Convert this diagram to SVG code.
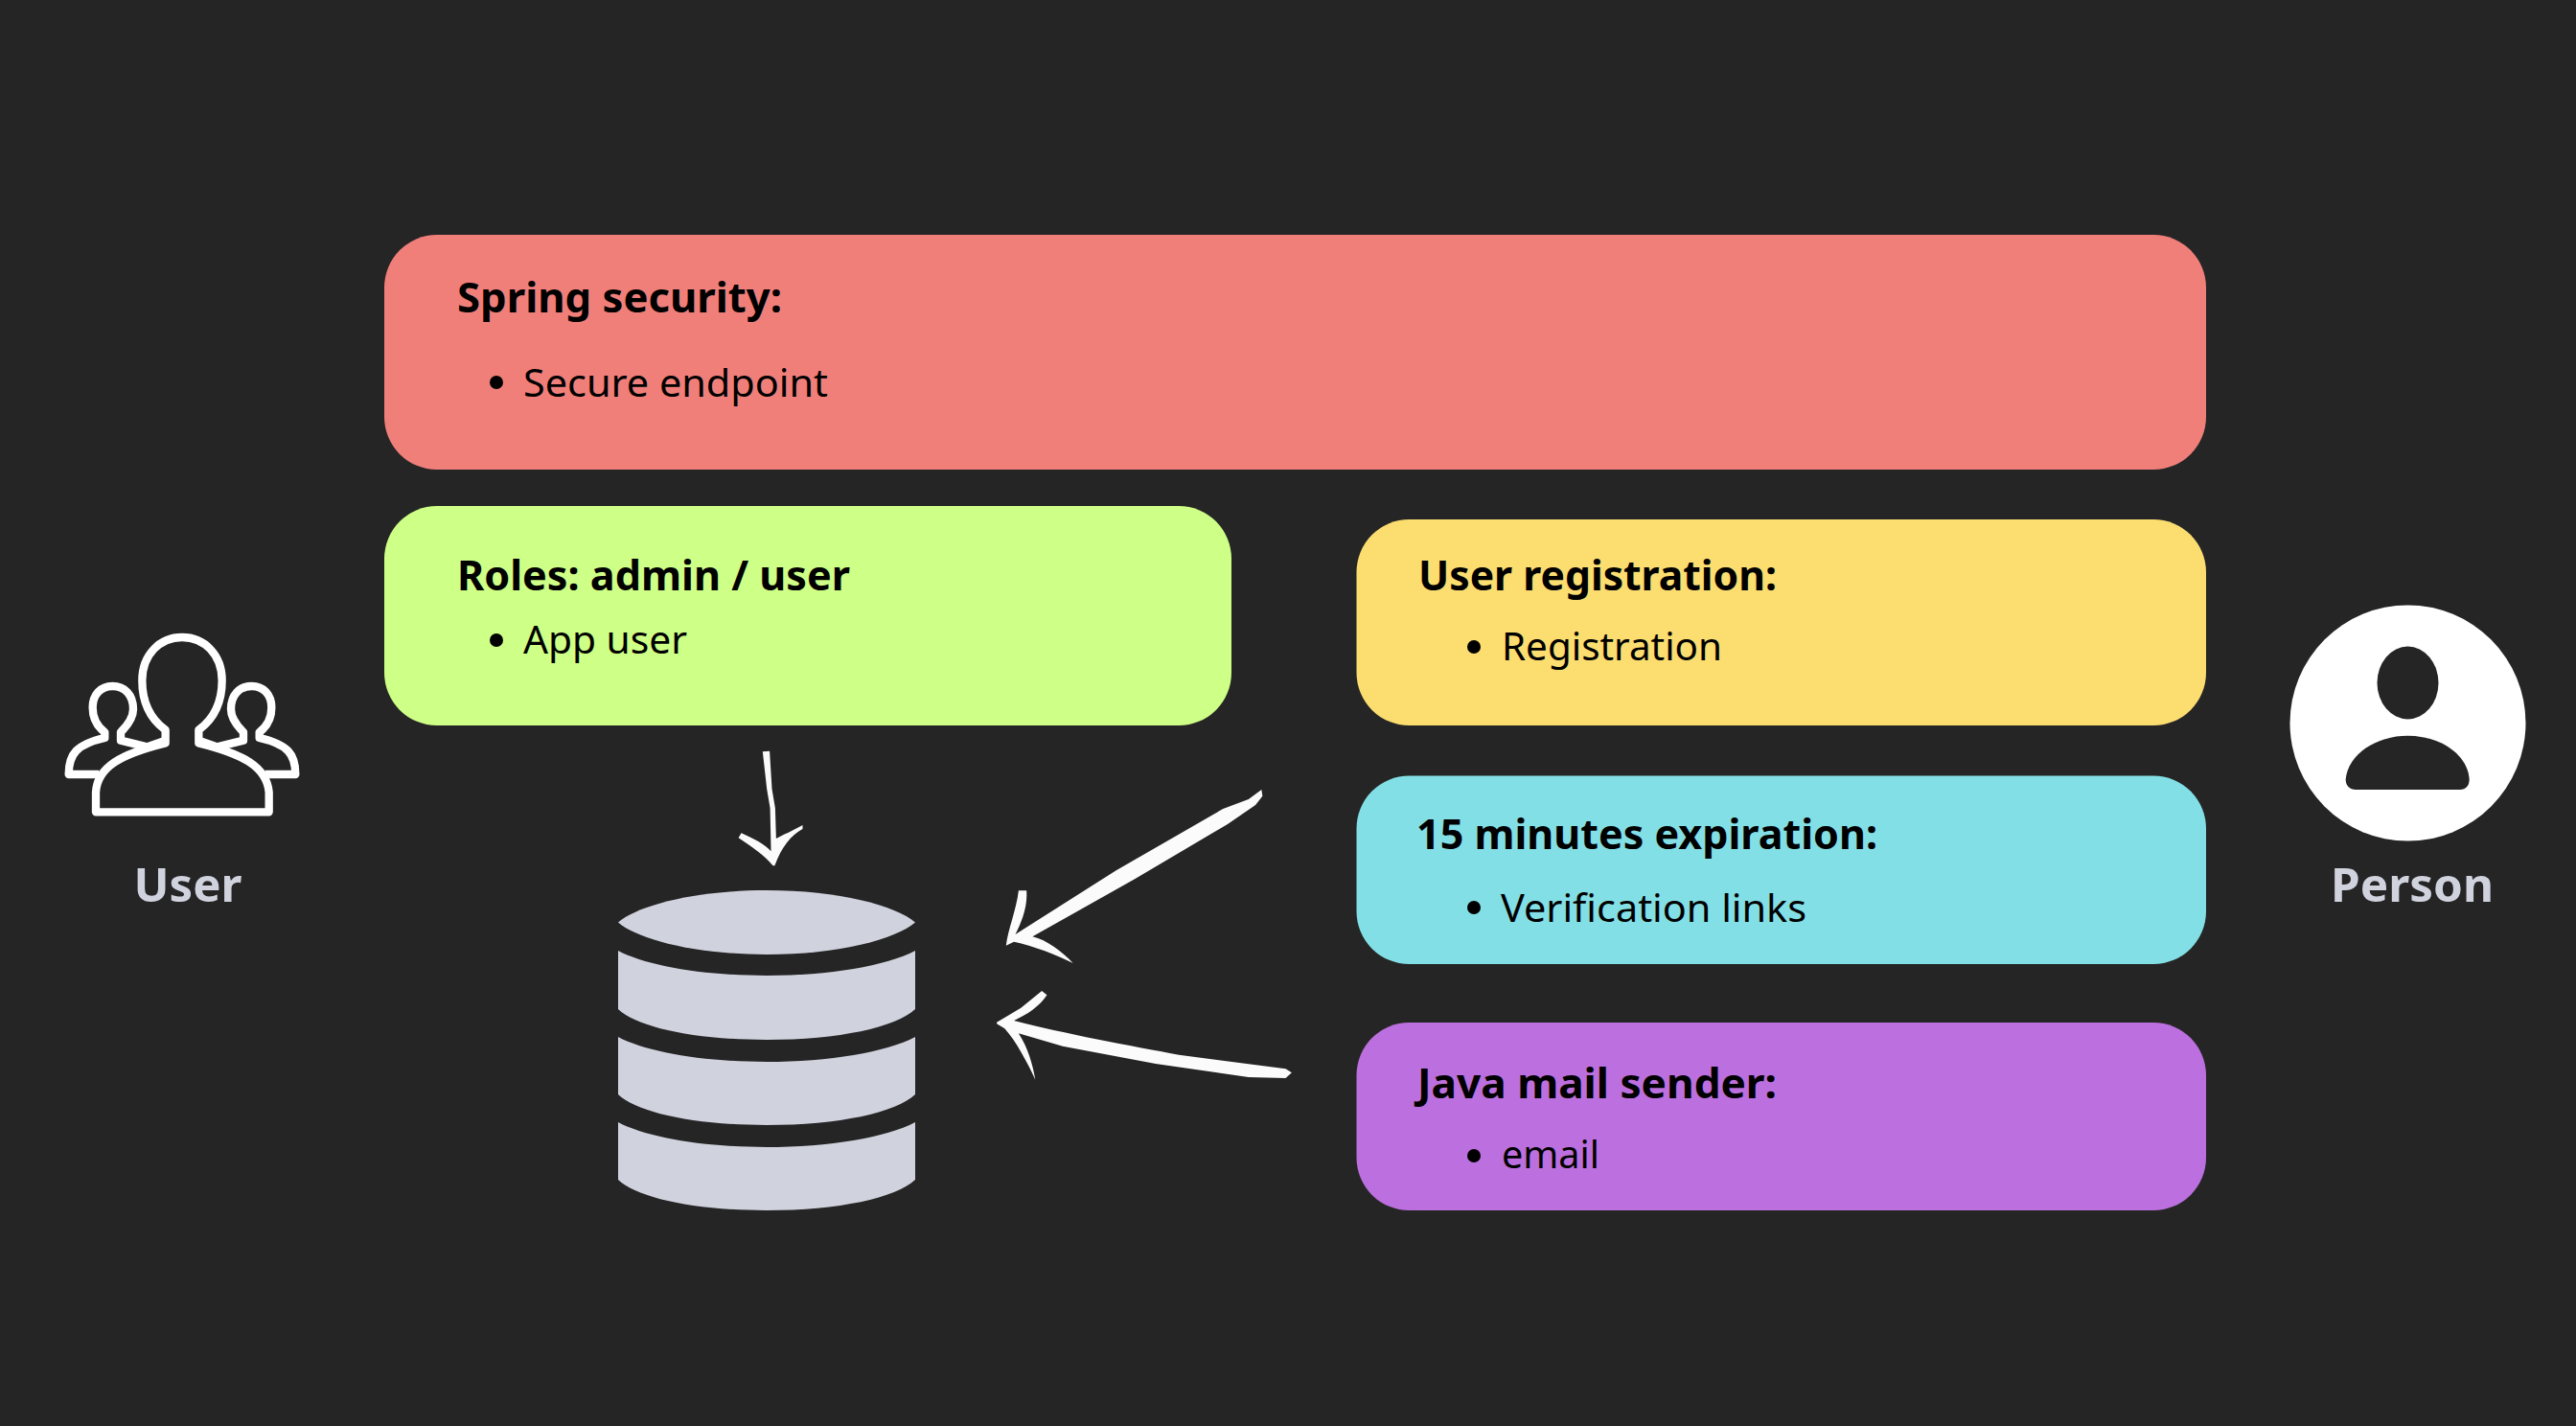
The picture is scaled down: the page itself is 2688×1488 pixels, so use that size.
<svg xmlns="http://www.w3.org/2000/svg" width="2688" height="1488" viewBox="0 0 2688 1488">
<style>
.h{font:700 43px "Noto Sans","Open Sans",sans-serif;fill:#000}
.b{font:400 40px "Noto Sans","Open Sans",sans-serif;fill:#000}
.l{font:700 48px "Noto Sans","Open Sans",sans-serif;fill:#d0d3de}
.db{fill:#d0d3de}
.arrow{fill:#fbfbfb}
.line{fill:none;stroke:#fff;stroke-width:8;stroke-linejoin:round}
</style>
<rect width="2688" height="1488" fill="#252525"/>
<g id="spring-security"><rect x="401" y="245" width="1901" height="245" rx="55" fill="#f07f7a"/>
<text class="h" x="477" y="326" textLength="339" lengthAdjust="spacingAndGlyphs">Spring security:</text><circle cx="518" cy="399" r="7"/><text class="b" x="546" y="414" textLength="318" lengthAdjust="spacingAndGlyphs">Secure endpoint</text></g>
<g id="roles"><rect x="401" y="528" width="884" height="229" rx="55" fill="#ceff86"/>
<text class="h" x="477" y="616" textLength="410" lengthAdjust="spacingAndGlyphs">Roles: admin / user</text><circle cx="518" cy="668" r="7"/><text class="b" x="546" y="682" textLength="171" lengthAdjust="spacingAndGlyphs">App user</text></g>
<g id="user-registration"><rect x="1415.500" y="542" width="886.500" height="215" rx="55" fill="#fbdd70"/>
<text class="h" x="1480" y="616" textLength="374" lengthAdjust="spacingAndGlyphs">User registration:</text><circle cx="1538" cy="675" r="7"/><text class="b" x="1567" y="689" textLength="230" lengthAdjust="spacingAndGlyphs">Registration</text></g>
<g id="expiration"><rect x="1415.500" y="809.500" width="886.500" height="196.500" rx="55" fill="#83dfe6"/>
<text class="h" x="1478" y="886" textLength="481" lengthAdjust="spacingAndGlyphs">15 minutes expiration:</text><circle cx="1538" cy="947" r="7"/><text class="b" x="1566" y="962" textLength="319" lengthAdjust="spacingAndGlyphs">Verification links</text></g>
<g id="mail-sender"><rect x="1415.500" y="1067" width="886.500" height="196" rx="55" fill="#bc6fde"/>
<text class="h" x="1479" y="1146" textLength="375" lengthAdjust="spacingAndGlyphs">Java mail sender:</text><circle cx="1538" cy="1206" r="7"/><text class="b" x="1567" y="1219" textLength="102" lengthAdjust="spacingAndGlyphs">email</text></g>
<g id="user">
<g transform="translate(40 620) scale(.33333)" class="line" style="stroke-width:25">
<path d="M180 682V620C185 540 260 500 398 466V425C350 390 325 340 325 270C325 190 380 135 450 135C520 135 575 190 575 270C575 340 550 390 502 425V466C640 500 715 540 722 620V682Z"/>
<path d="M190 564H95C95 500 120 470 208 450V432C185 415 170 390 170 355C170 315 195 288 232 288C270 288 297 315 297 360C297 390 275 415 258 432V458L340 478L398 458"/>
<path d="M710 564H805C805 500 780 470 692 450V432C715 415 730 390 730 355C730 315 705 288 668 288C630 288 603 315 603 360C603 390 625 415 642 432V458L560 478L502 458"/>
</g>
<text class="l" x="196" y="941" text-anchor="middle" textLength="113" lengthAdjust="spacingAndGlyphs">User</text></g>
<g id="person">
<circle cx="2512.500" cy="754.500" r="123" fill="#fff"/>
<ellipse cx="2512.500" cy="712.500" rx="32" ry="38" fill="#252525"/>
<path fill="#252525" transform="translate(2360 610) scale(.33333)" d="M263 610C270 530 360 473 457 473C555 473 645 530 650 610C650 630 640 642 620 642H295C275 642 263 630 263 610Z"/>
<text class="l" x="2517" y="941" text-anchor="middle" textLength="170" lengthAdjust="spacingAndGlyphs">Person</text></g>
<g id="database" class="db">
<path d="M645 962.500C665 945 725 929 800 929C875 929 935 945 955 962.500C935 980 875 996 800 996C725 996 665 980 645 962.500Z"/>
<path d="M645 992C675 1008 735 1018 800 1018C865 1018 925 1008 955 992V1053C935 1072 875 1085 800 1085C725 1085 665 1072 645 1053Z"/>
<path d="M645 1082C675 1098 735 1108 800 1108C865 1108 925 1098 955 1082V1142C935 1161 875 1174 800 1174C725 1174 665 1161 645 1142Z"/>
<path d="M645 1171C675 1187 735 1197 800 1197C865 1197 925 1187 955 1171V1231C935 1250 875 1263 800 1263C725 1263 665 1250 645 1231Z"/>
</g>
<g id="connectors" class="arrow" transform="translate(600 760) scale(.4847 .33333)">
<path d="M404 73L419 71L424 190L431 250L433 345C445 335 470 320 490 303V315C465 335 445 370 430 430H426C410 400 375 365 352 343L358 328C385 345 410 365 422 385L420 250L413 190Z"/>
<path d="M1478 192L1480 212L1465 240L1405 300L1205 472L985 652C1015 662 1050 700 1072 735C1040 710 985 680 945 668L928 680C932 630 950 570 955 508H972C975 560 960 610 948 645L1165 445L1395 252L1450 222Z"/>
<path d="M908 920L960 875L1005 822L1016 835C1000 870 975 895 945 915C1050 955 1200 995 1300 1022L1530 1066L1543 1078L1530 1095L1450 1092L1250 1050L1050 995L955 955C975 1000 985 1050 991 1100C975 1050 950 980 925 940L908 925Z"/>
</g>
</svg>
